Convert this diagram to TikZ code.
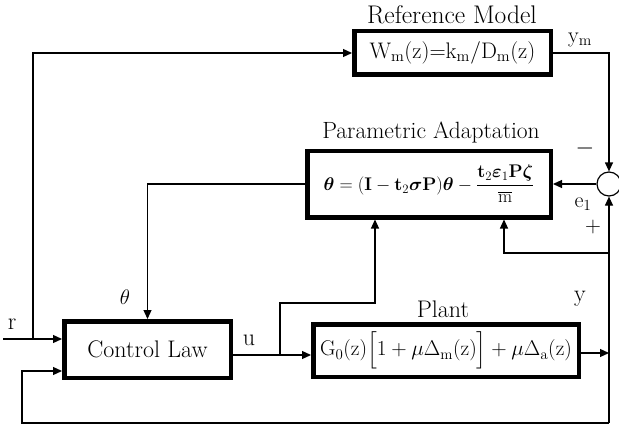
\RequirePackage{fix-cm}
\documentclass[tikz,border=0pt]{standalone}
\usepackage{amsmath,bm}
\usetikzlibrary{arrows.meta,calc}
\tikzset{
  blk/.style={draw, line width=4.5pt, inner sep=0pt, fill=white},
  wire/.style={line width=1.2pt},
  arr/.style={wire, -{Triangle[length=9pt,width=8pt]}},
  lbl/.style={inner sep=0pt, font=\fontsize{24}{28}\selectfont},
}
\begin{document}
\begin{tikzpicture}[x=1pt,y=-1pt]
\useasboundingbox (0,0) rectangle (619,428);
% blocks
\node[blk, minimum width=196.5pt, minimum height=43.5pt] (refm) at (452.5,53)
  {\fontsize{22.5}{26}\selectfont $\mathrm{W_m(z){=}k_m/D_m(z)}$};
\node[blk, minimum width=243.5pt, minimum height=66.5pt] (param) at (429,184)
  {\fontsize{18.3}{22}\selectfont $\bm{\theta}=(\mathbf{I}-\mathbf{t}_{2}\bm{\sigma}\mathbf{P})\bm{\theta}-\dfrac{\mathbf{t}_{2}\bm{\varepsilon}_{1}\mathbf{P}\bm{\zeta}}{\overline{\mathrm{m}}}$};
\node[blk, minimum width=166.5pt, minimum height=56.5pt] (ctrl) at (147.5,349.5)
  {\fontsize{24}{28}\selectfont Control Law};
\node[blk, minimum width=265.5pt, minimum height=52.5pt] (plant) at (446,350.5)
  {\fontsize{21.3}{24}\selectfont $\mathrm{G_0(z)}\Bigl[1+\mu\Delta_{\mathrm{m}}(\mathrm{z})\Bigr]+\mu\Delta_{\mathrm{a}}(\mathrm{z})$};
\node[draw, wire, circle, minimum size=24pt, inner sep=0pt] (sum) at (609,184) {};
% titles
\node[lbl, font=\fontsize{25.5}{28}\selectfont] (tref) at (452,15) {Reference Model};
\node[lbl, font=\fontsize{23.5}{28}\selectfont] (tpar) at (431,132) {Parametric Adaptation};
\node[lbl] (tpla) at (443,309) {Plant};
% coordinates
\coordinate (rin) at (3,339);
\coordinate (rb) at (33,339);
\coordinate (u) at (280,355);
\coordinate (ua) at (375,303);
\coordinate (yj) at (609,353);
\coordinate (eb) at (609,253);
\coordinate (pa) at (504,253);
\coordinate (bot) at (609,423);
\coordinate (fb) at (22,371);
% wires
\draw[arr] (rin) -- (ctrl.west |- rin);
\draw[arr] (rb) |- (refm.west);
\draw[arr] (refm.east) -| (sum.north);
\draw[arr] (sum.west) -- (param.east);
\draw[arr] (param.west) -| (ctrl.north);
\draw[arr] (ctrl.east |- u) -- (plant.west |- u);
\draw[arr] (u) |- (ua) -- (param.south -| ua);
\draw[arr] (plant.east |- yj) -- (yj);
\draw[arr] (bot) -- (sum.south);
\draw[arr] (bot) -| (fb) -- (ctrl.west |- fb);
\draw[arr] (eb) -- (pa) -- (param.south -| pa);
% signal labels
\node[lbl] (lr) at (12,324) {r};
\node[lbl, font=\fontsize{21}{24}\selectfont] (lth) at (125,297) {$\theta$};
\node[lbl] (lu) at (249,340) {u};
\node[lbl] (ly) at (580,299) {y};
\node[lbl, font=\fontsize{22}{24}\selectfont] (lym) at (580,40) {$\mathrm{y_m}$};
\node[lbl] (lminus) at (585,148) {$-$};
\node[lbl, font=\fontsize{22}{24}\selectfont] (le) at (583,204) {$\mathrm{e_1}$};
\node[lbl, font=\fontsize{22}{24}\selectfont] (lplus) at (593,227) {$+$};
\end{tikzpicture}
\end{document}
